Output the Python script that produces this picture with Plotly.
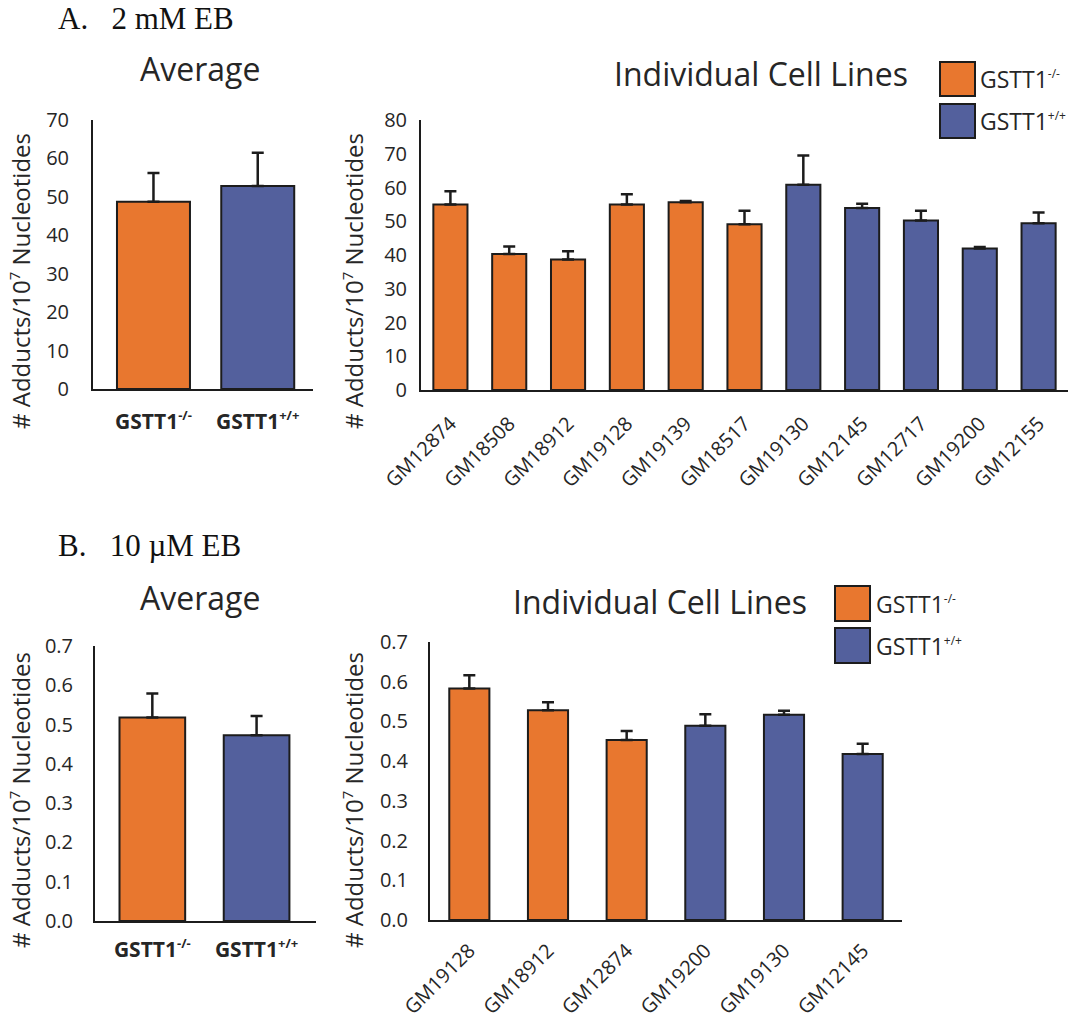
import plotly.graph_objects as go

# ---- data -------------------------------------------------------------
genotype_labels = ["GSTT1-/-", "GSTT1+/+"]

# A. 2 mM EB
avg_2mM = [48.7, 52.8]
avg_2mM_sem = [7.5, 8.7]

lines_2mM = ["GM12874", "GM18508", "GM18912", "GM19128", "GM19139", "GM18517",
             "GM19130", "GM12145", "GM12717", "GM19200", "GM12155"]
geno_2mM = ["-/-", "-/-", "-/-", "-/-", "-/-", "-/-",
            "+/+", "+/+", "+/+", "+/+", "+/+"]
adducts_2mM = [55.0, 40.3, 38.7, 55.0, 55.6, 49.1, 60.8, 53.9, 50.2, 41.9, 49.4]
sem_2mM = [3.9, 2.2, 2.4, 3.0, 0.4, 4.0, 8.7, 1.3, 2.9, 0.5, 3.2]

# B. 10 uM EB
avg_10uM = [0.518, 0.473]
avg_10uM_sem = [0.061, 0.049]

lines_10uM = ["GM19128", "GM18912", "GM12874", "GM19200", "GM19130", "GM12145"]
geno_10uM = ["-/-", "-/-", "-/-", "+/+", "+/+", "+/+"]
adducts_10uM = [0.583, 0.528, 0.453, 0.489, 0.517, 0.418]
sem_10uM = [0.033, 0.020, 0.023, 0.029, 0.010, 0.026]

# ---- style ------------------------------------------------------------
W, H = 1073, 1026
ORANGE = "#E8772F"
BLUE = "#53609D"
INK = "#1c1c1c"
TXT = "#262626"
FONT = "Open Sans"
GENO_COLOR = {"-/-": ORANGE, "+/+": BLUE}


def px(x):
    return x / W


def py(y):
    return 1 - y / H


def sup(s, size):
    return "<sup><span style='font-size:%dpx'>%s</span></sup>" % (size, s)


def bar_trace(x, y, err, colors, width, xa, ya):
    return go.Bar(
        x=x, y=y, width=width,
        marker=dict(color=colors, line=dict(color=INK, width=2)),
        error_y=dict(type="data", array=err, arrayminus=[0] * len(err),
                     symmetric=False, color=INK, thickness=2.5, width=6),
        xaxis=xa, yaxis=ya, showlegend=False, hoverinfo="x+y",
    )


fig = go.Figure()
fig.add_trace(bar_trace(genotype_labels, avg_2mM, avg_2mM_sem,
                        [ORANGE, BLUE], 0.70, "x", "y"))
fig.add_trace(bar_trace(lines_2mM, adducts_2mM, sem_2mM,
                        [GENO_COLOR[g] for g in geno_2mM], 0.58, "x2", "y2"))
fig.add_trace(bar_trace(genotype_labels, avg_10uM, avg_10uM_sem,
                        [ORANGE, BLUE], 0.63, "x3", "y3"))
fig.add_trace(bar_trace(lines_10uM, adducts_10uM, sem_10uM,
                        [GENO_COLOR[g] for g in geno_10uM], 0.51, "x4", "y4"))

geno_ticktext = ["<b>GSTT1" + sup("-/-", 13) + "</b>",
                 "<b>GSTT1" + sup("+/+", 13) + "</b>"]

common_x = dict(showline=True, linecolor=INK, linewidth=2, showgrid=False,
                zeroline=False, ticks="", type="category", automargin=False,
                tickfont=dict(family=FONT, size=20, color=TXT))
common_y = dict(showline=True, linecolor=INK, linewidth=2, showgrid=False,
                zeroline=False, ticks="", automargin=False,
                tickfont=dict(family=FONT, size=20, color=TXT))
geno_font = dict(family=FONT, size=21, color=TXT)

layout_axes = dict(
    xaxis=dict(common_x, domain=[px(93), px(313)], range=[-0.58, 1.53],
               anchor="y", tickvals=genotype_labels, ticktext=geno_ticktext,
               tickfont=geno_font, ticklabelstandoff=13),
    yaxis=dict(common_y, domain=[py(389), py(120)], range=[0, 70], dtick=10,
               anchor="x", ticklabelstandoff=18),
    xaxis2=dict(common_x, domain=[px(421), px(1068)], range=[-0.5, 10.5],
                anchor="y2", tickangle=-45, ticklabelstandoff=12),
    yaxis2=dict(common_y, domain=[py(390), py(120)], range=[0, 80], dtick=10,
                anchor="x2", ticklabelstandoff=8),
    xaxis3=dict(common_x, domain=[px(95), px(316)], range=[-0.55, 1.57],
                anchor="y3", tickvals=genotype_labels, ticktext=geno_ticktext,
                tickfont=geno_font, ticklabelstandoff=9),
    yaxis3=dict(common_y, domain=[py(921), py(646)], range=[0, 0.7], dtick=0.1,
                tickformat=".1f", anchor="x3", ticklabelstandoff=16),
    xaxis4=dict(common_x, domain=[px(430), px(902)], range=[-0.5, 5.5],
                anchor="y4", tickangle=-45, ticklabelstandoff=9),
    yaxis4=dict(common_y, domain=[py(920), py(642)], range=[0, 0.7], dtick=0.1,
                tickformat=".1f", anchor="x4", ticklabelstandoff=16),
)

annotations = []


def note(text, x, y, size, family=FONT, xanchor="center", angle=0, color=TXT):
    annotations.append(dict(
        text=text, x=px(x), y=py(y), xref="paper", yref="paper",
        xanchor=xanchor, yanchor="middle", textangle=angle, showarrow=False,
        font=dict(family=family, size=size, color=color)))


NB = "\u00a0"
# panel letters
note("A." + NB * 3 + "2 mM EB", 56, 19, 31, family="Liberation Serif",
     xanchor="left", color="#111")
note("B." + NB * 3 + "10 \u00b5M EB", 56, 545, 31, family="Liberation Serif",
     xanchor="left", color="#111")

# panel titles
note("Average", 200, 68, 32)
note("Individual Cell Lines", 761, 73, 32)
note("Average", 200, 597, 32)
note("Individual Cell Lines", 660, 601, 32)

# y-axis titles
ytitle = "# Adducts/10" + sup("7", 15) + " Nucleotides"
note(ytitle, 20, 281, 24, angle=-90)
note(ytitle, 353, 281, 24, angle=-90)
note(ytitle, 20, 800, 24, angle=-90)
note(ytitle, 353, 800, 24, angle=-90)

# legends (swatch boxes + labels)
shapes = []


def legend_entry(x0, y0, y1, color, label, text_x):
    shapes.append(dict(type="rect", xref="paper", yref="paper",
                       x0=px(x0), x1=px(x0 + 35), y0=py(y1), y1=py(y0),
                       fillcolor=color, line=dict(color=INK, width=2)))
    note(label, text_x, (y0 + y1) / 2, 23, xanchor="left")


legend_entry(940, 62, 96, ORANGE, "GSTT1" + sup("-/-", 12), 978)
legend_entry(940, 104, 138, BLUE, "GSTT1" + sup("+/+", 12), 978)
legend_entry(835, 586, 621, ORANGE, "GSTT1" + sup("-/-", 12), 874)
legend_entry(835, 628, 663, BLUE, "GSTT1" + sup("+/+", 12), 874)

fig.update_layout(
    width=W, height=H, margin=dict(l=0, r=0, t=0, b=0, autoexpand=False),
    paper_bgcolor="white", plot_bgcolor="white",
    font=dict(family=FONT, color=TXT),
    showlegend=False, annotations=annotations, shapes=shapes,
    **layout_axes,
)

fig.write_html("out.html")
